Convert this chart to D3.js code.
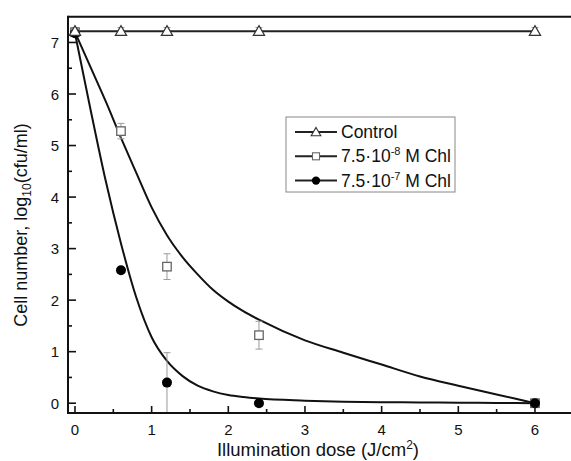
<!DOCTYPE html>
<html>
<head>
<meta charset="utf-8">
<script src="https://cdn.jsdelivr.net/npm/d3@7"></script>
<style>
  html, body { margin: 0; padding: 0; background: #fff; }
  svg { display: block; }
</style>
</head>
<body>
<svg id="chart" width="571" height="461"></svg>
<script>
// Measured doses (J/cm2)
const doses = [0, 0.6, 1.2, 2.4, 6];

// Surviving cells, log10(cfu/ml), with standard deviations
const controlY   = [7.22, 7.22, 7.22, 7.22, 7.22];
const controlErr = [0.07, 0.07, 0.07, 0.07, 0.07];
const lowChlY    = [7.20, 5.28, 2.65, 1.32, 0];
const lowChlErr  = [0.05, 0.15, 0.25, 0.27, 0];
const highChlY   = [7.18, 2.58, 0.40, 0, 0];
const highChlErr = [0, 0, 0.58, 0, 0];

// Fitted inactivation curves
const fitX     = [0, 0.2, 0.4, 0.6, 0.8, 1.0, 1.2, 1.4, 1.6, 1.8, 2.0, 2.2, 2.4, 3.0, 3.5, 4.0, 4.5, 5.0, 5.5, 6.0];
const lowFitY  = [7.2, 6.53, 5.86, 5.15, 4.47, 3.80, 3.26, 2.84, 2.50, 2.20, 1.97, 1.78, 1.62, 1.22, 0.98, 0.75, 0.52, 0.34, 0.17, 0];
const highFitY = [7.18, 5.72, 4.32, 3.10, 2.05, 1.28, 0.82, 0.53, 0.34, 0.23, 0.16, 0.12, 0.09, 0.05, 0.03, 0.02, 0.015, 0.01, 0.005, 0];

// Axis ticks
const xMajor = [0, 1, 2, 3, 4, 5, 6];
const xMinor = [0.5, 1.5, 2.5, 3.5, 4.5, 5.5];
const yMajor = [0, 1, 2, 3, 4, 5, 6, 7];
const yMinor = [0.5, 1.5, 2.5, 3.5, 4.5, 5.5, 6.5];

const legendLabels = ["Control", "7.5·10", "7.5·10"];
const legendExp = ["", "-8", "-7"];

const FONT = "Liberation Sans";
const INK = "#111";

const svg = d3.select("#chart");

const x = d3.scaleLinear().domain([-0.091, 6.47]).range([68, 571]);
const y = d3.scaleLinear().domain([-0.19, 7.5]).range([413, 16.7]);

const [xL, xR] = x.range();
const [yB, yT] = y.range();

// Tick labels
svg.append("g").selectAll("text").data(xMajor).join("text")
  .attr("x", d => x(d)).attr("y", yB + 22)
  .attr("text-anchor", "middle")
  .style("font-family", FONT).style("font-size", "15px").style("fill", INK)
  .text(d3.format("d"));
svg.append("g").selectAll("text").data(yMajor).join("text")
  .attr("x", xL - 9).attr("y", d => y(d) + 5.5)
  .attr("text-anchor", "end")
  .style("font-family", FONT).style("font-size", "15px").style("fill", INK)
  .text(d3.format("d"));

// Axis titles
const xt = svg.append("text")
  .attr("x", 318).attr("y", 456)
  .attr("text-anchor", "middle")
  .style("font-family", FONT).style("font-size", "18.5px").style("fill", INK);
xt.append("tspan").text("Illumination dose (J/cm");
xt.append("tspan").style("font-size", "12px").attr("dy", -7).text("2");
xt.append("tspan").attr("dy", 7).text(")");

const yt = svg.append("text")
  .attr("transform", "translate(27,225) rotate(-90)")
  .attr("text-anchor", "middle")
  .style("font-family", FONT).style("font-size", "18px").style("fill", INK);
yt.append("tspan").text("Cell number, log");
yt.append("tspan").style("font-size", "12px").attr("dy", 4).text("10");
yt.append("tspan").attr("dy", -4).text("(cfu/ml)");

const plot = svg.append("g");

// Fitted curves
const line = d3.line().x((d, i) => x(fitX[i])).y(d => y(d)).curve(d3.curveMonotoneX);
plot.append("path").datum(lowFitY).attr("d", line)
  .attr("fill", "none").attr("stroke", INK).attr("stroke-width", 2);
plot.append("path").datum(highFitY).attr("d", line)
  .attr("fill", "none").attr("stroke", INK).attr("stroke-width", 2);

// Control line
const straight = d3.line().x((d, i) => x(doses[i])).y(d => y(d));
plot.append("path").datum(controlY).attr("d", straight)
  .attr("fill", "none").attr("stroke", "#222").attr("stroke-width", 2);

// Error bars
function errorBars(vals, errs) {
  const g = plot.append("g").attr("stroke", "#9a9a9a").attr("stroke-width", 1);
  vals.forEach((v, i) => {
    if (!errs[i]) return;
    const cx = x(doses[i]);
    const lo = Math.max(v - errs[i], y.domain()[0]);
    const hi = v + errs[i];
    g.append("line").attr("x1", cx).attr("x2", cx).attr("y1", y(lo)).attr("y2", y(hi));
    g.append("line").attr("x1", cx - 3.5).attr("x2", cx + 3.5).attr("y1", y(hi)).attr("y2", y(hi));
    if (v - errs[i] > y.domain()[0])
      g.append("line").attr("x1", cx - 3.5).attr("x2", cx + 3.5).attr("y1", y(lo)).attr("y2", y(lo));
  });
}
errorBars(lowChlY, lowChlErr);
errorBars(highChlY, highChlErr);
errorBars(controlY, controlErr);

// Markers
const sq = 8.5;
plot.append("g").selectAll("rect").data(lowChlY).join("rect")
  .attr("x", (d, i) => x(doses[i]) - sq / 2).attr("y", d => y(d) - sq / 2)
  .attr("width", sq).attr("height", sq)
  .attr("fill", "#fff").attr("stroke", "#666").attr("stroke-width", 1.3);

plot.append("g").selectAll("circle").data(highChlY).join("circle")
  .attr("cx", (d, i) => x(doses[i])).attr("cy", d => y(d)).attr("r", 5)
  .attr("fill", "#000");

const tri = d3.symbol().type(d3.symbolTriangle).size(55);
plot.append("g").selectAll("path").data(controlY).join("path")
  .attr("transform", (d, i) => `translate(${x(doses[i])},${y(d) + 1})`)
  .attr("d", tri)
  .attr("fill", "#fff").attr("stroke", "#333").attr("stroke-width", 1.2);

// Legend
const lg = svg.append("g").attr("transform", "translate(286,117)");
lg.append("rect").attr("width", 169).attr("height", 75)
  .attr("fill", "#fff").attr("stroke", "#888").attr("stroke-width", 1);
const rowY = r => 15 + r * 24.3;
[0, 1, 2].forEach(r => {
  lg.append("line").attr("x1", 9).attr("x2", 51).attr("y1", rowY(r)).attr("y2", rowY(r))
    .attr("stroke", "#222").attr("stroke-width", 2);
  if (r === 0) {
    lg.append("path").attr("transform", `translate(30,${rowY(r) + 1})`)
      .attr("d", d3.symbol().type(d3.symbolTriangle).size(40))
      .attr("fill", "#fff").attr("stroke", "#333").attr("stroke-width", 1.1);
  } else if (r === 1) {
    lg.append("rect").attr("x", 26.5).attr("y", rowY(r) - 3.5).attr("width", 7).attr("height", 7)
      .attr("fill", "#fff").attr("stroke", "#666").attr("stroke-width", 1.1);
  } else {
    lg.append("circle").attr("cx", 30).attr("cy", rowY(r)).attr("r", 4.2).attr("fill", "#000");
  }
  const t = lg.append("text").attr("x", 55).attr("y", rowY(r) + 6)
    .style("font-family", FONT).style("font-size", "17.5px").style("fill", INK);
  t.append("tspan").text(legendLabels[r]);
  if (legendExp[r]) {
    t.append("tspan").style("font-size", "11px").attr("dy", -7).text(legendExp[r]);
    t.append("tspan").attr("dy", 7).text(" M Chl");
  }
});

// Frame and inward ticks, drawn on top of everything
const frame = svg.append("g");
frame.append("line").attr("x1", xL).attr("x2", xR).attr("y1", yT).attr("y2", yT)
  .attr("stroke", INK).attr("stroke-width", 2);
frame.append("line").attr("x1", xL).attr("x2", xL).attr("y1", yT - 1).attr("y2", yB + 1)
  .attr("stroke", INK).attr("stroke-width", 2);
frame.append("line").attr("x1", xL - 1).attr("x2", xR).attr("y1", yB).attr("y2", yB)
  .attr("stroke", INK).attr("stroke-width", 2);

function ticks(values, len, horizontal) {
  frame.append("g").selectAll("line").data(values).join("line")
    .attr("x1", d => horizontal ? x(d) : xL)
    .attr("x2", d => horizontal ? x(d) : xL + len)
    .attr("y1", d => horizontal ? yB : y(d))
    .attr("y2", d => horizontal ? yB - len : y(d))
    .attr("stroke", INK).attr("stroke-width", 1.6);
}
ticks(xMajor, 7, true);
ticks(xMinor, 4, true);
ticks(yMajor, 8, false);
ticks(yMinor, 4, false);
</script>
</body>
</html>
